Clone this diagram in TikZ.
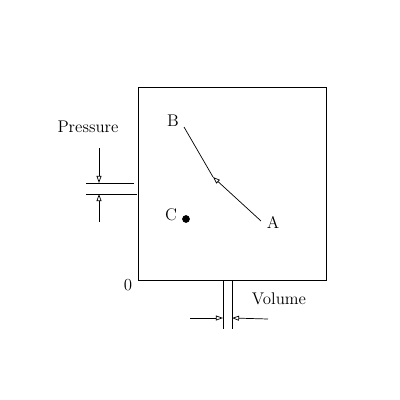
\documentclass[tikz,border=0pt]{standalone}
\usepackage{tikz}
\usetikzlibrary{arrows.meta,positioning}
\tikzset{
  lbl/.style={inner sep=1pt, font=\large},
  gauge/.style={line width=0.5pt},
  pointer/.style={-{Triangle[open,length=5pt,width=3.5pt]}, line width=0.5pt},
  dot/.style={circle, fill=black, inner sep=0pt, minimum size=5.5pt}
}

\begin{document}
\begin{tikzpicture}[x=0.025cm, y=-0.025cm]
  \useasboundingbox (0,0) rectangle (400,400);
  % the diagram frame
  \draw[line width=0.6pt] (138,87) rectangle (326,280);
  \node[lbl] (zero) at (128,285) {0};
  % the path from A to B
  \coordinate (pa) at (261,221);
  \coordinate (pk) at (213,177);
  \coordinate (pb) at (184,127);
  \node[lbl] (la) at (273,222) {A};
  \node[lbl] (lb) at (173,121) {B};
  \draw[pointer] (pa) -- (pk);
  \draw[gauge] (pk) -- (pb);
  \node[lbl] (lc) at (171,215) {C};
  \node[dot] (c) at (186,219) {};
  % pressure gauge
  \node[lbl] (pres) at (88,127) {Pressure};
  \coordinate (ptl) at (86,183);
  \coordinate (ptr) at (134,183);
  \coordinate (pbl) at (86,194);
  \coordinate (pbr) at (137,194);
  \draw[gauge] (ptl) -- (ptr);
  \draw[gauge] (pbl) -- (pbr);
  \coordinate (pup) at (99,148);
  \coordinate (pdn) at (99,222);
  \draw[pointer] (pup) -- (99,183);
  \draw[pointer] (pdn) -- (99,194);
  % volume gauge
  \node[lbl] (vol) at (279,299) {Volume};
  \coordinate (vlt) at (223,280);
  \coordinate (vlb) at (223,329);
  \coordinate (vrt) at (232,280);
  \coordinate (vrb) at (232,329);
  \draw[gauge] (vlt) -- (vlb);
  \draw[gauge] (vrt) -- (vrb);
  \coordinate (vl) at (190,318);
  \coordinate (vr) at (268,319);
  \draw[pointer] (vl) -- (223,318);
  \draw[pointer] (vr) -- (232,318);
\end{tikzpicture}
\end{document}
